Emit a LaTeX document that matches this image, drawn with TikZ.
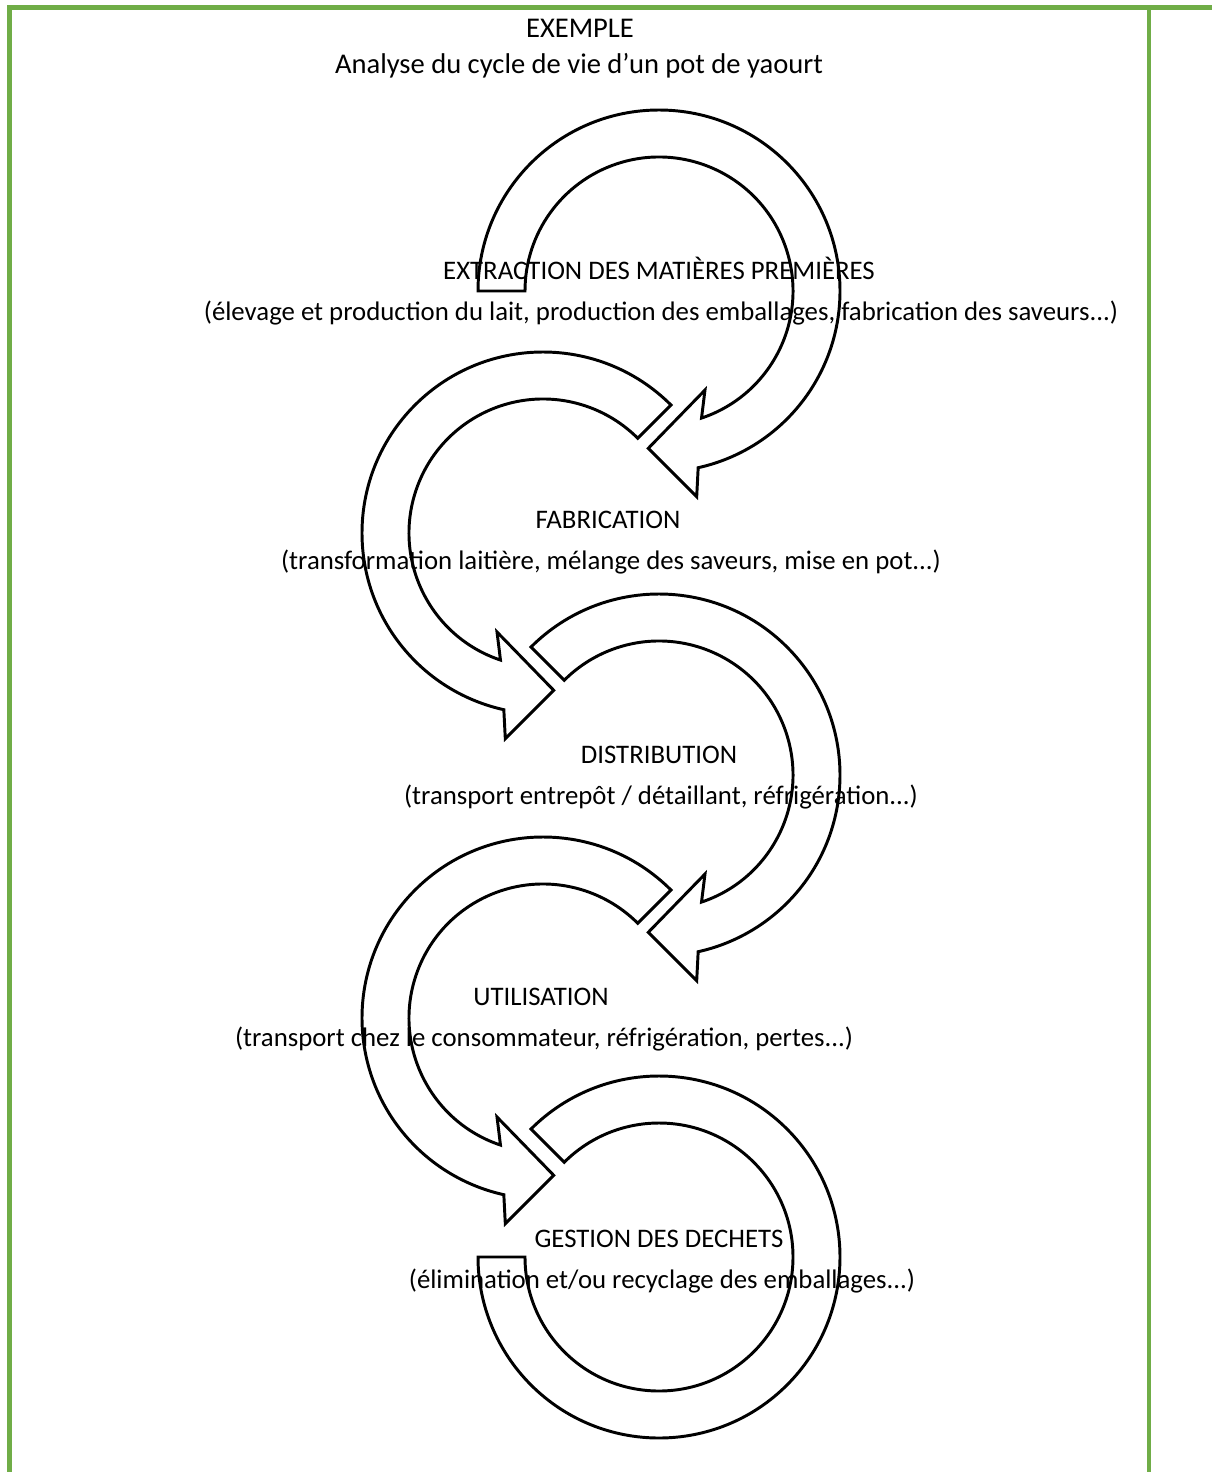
\documentclass[tikz,border=0pt]{standalone}
\usepackage{fontspec}
\setmainfont{Carlito}
\definecolor{vertcadre}{RGB}{112,173,71}
% fleche circulaire dans le sens horaire, queue a l'angle #1
\newcommand\fleche[1]{%
	\draw [fleche] (#1:181) arc (#1:-77.5:181) -- (37.7,-205.7) -- (-10.7,-157.3) -- (46,-99) -- (-71.5:134) arc (-71.5:#1:134) -- cycle;}
\begin{document}
\begin{tikzpicture}[x=0.014893cm,y=0.014893cm]
	\tikzstyle{every node}+=[inner sep=0pt,anchor=base,font=\fontsize{11.35}{13}\selectfont]
	\tikzstyle{titre}=[font=\fontsize{12.1}{14}\selectfont]
	\tikzstyle{fleche}=[black,line width=1.25pt,line join=miter]
	\tikzstyle{bordure}=[vertcadre,line width=1.7pt]
	\useasboundingbox (0,0) rectangle (1212,-1472);
	\draw [bordure] (9.5,-1472) -- (9.5,-7.5) -- (1212,-7.5);
	\draw [bordure] (1149,-7.5) -- (1149,-1472);
	\coordinate (c1) at (659,-291);
	\coordinate (c2) at (543,-533);
	\coordinate (c3) at (659,-775);
	\coordinate (c4) at (543,-1018);
	\coordinate (c5) at (659,-1257);
	\begin{scope}[shift={(c1)}] \fleche{180} \end{scope}
	\begin{scope}[shift={(c2)},xscale=-1] \fleche{135} \end{scope}
	\begin{scope}[shift={(c3)}] \fleche{135} \end{scope}
	\begin{scope}[shift={(c4)},xscale=-1] \fleche{135} \end{scope}
	\begin{scope}[shift={(c5)}]
		\draw [fleche] (135:181) arc (135:-180:181) -- (-134,0) arc (-180:135:134) -- cycle;
	\end{scope}
	\node [titre] (exemple) at (580,-37.5) {EXEMPLE};
	\node [titre] (soustitre) at (579,-73) {Analyse du cycle de vie d’un pot de yaourt};
	\node (extraction) at (659,-279.3) {EXTRACTION DES MATIÈRES PREMIÈRES};
	\node (extractiond) at (661,-320.5) {(élevage et production du lait, production des emballages, fabrication des saveurs...)};
	\node (fabrication) at (608,-528) {FABRICATION};
	\node (fabricationd) at (611,-569) {(transformation laitière, mélange des saveurs, mise en pot...)};
	\node (distribution) at (659,-763) {DISTRIBUTION};
	\node (distributiond) at (661,-804.5) {(transport entrepôt / détaillant, réfrigération...)};
	\node (utilisation) at (541,-1005) {UTILISATION};
	\node (utilisationd) at (544,-1046.5) {(transport chez le consommateur, réfrigération, pertes...)};
	\node (gestion) at (659,-1247) {GESTION DES DECHETS};
	\node (gestiond) at (662,-1288.5) {(élimination et/ou recyclage des emballages...)};
\end{tikzpicture}
\end{document}
